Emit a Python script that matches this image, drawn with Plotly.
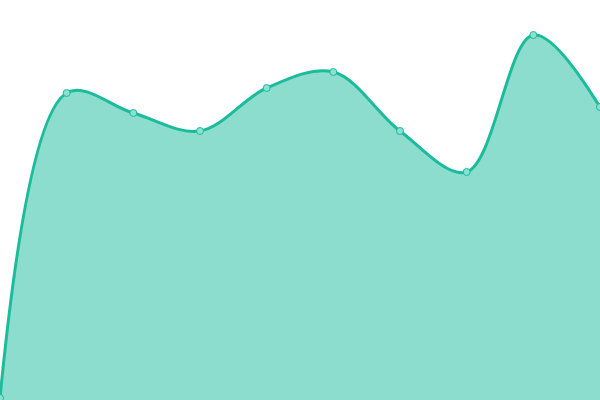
import plotly.graph_objects as go

x_vals = list(range(10))
y_vals = [2, 307, 287, 269, 312, 328, 269, 228, 365, 293]

line_color = '#1abc9c'
fill_color = 'rgba(26,188,156,0.5)'

trace = go.Scatter(x=x_vals, y=y_vals,
                   mode='lines+markers',
                   line={'color': line_color, 'width': 3, 'shape': 'spline', 'smoothing': 1},
                   marker={'size': 7, 'color': '#8ce0cf', 'line': {'color': line_color, 'width': 1}},
                   fill='tozeroy', fillcolor=fill_color,
                   cliponaxis=True, hoverinfo='skip')

layout = go.Layout(width=600, height=400,
                   margin={'l': 0, 'r': 0, 't': 0, 'b': 0},
                   paper_bgcolor='white', plot_bgcolor='white',
                   showlegend=False,
                   xaxis={'range': [0, 9], 'visible': False},
                   yaxis={'range': [0, 400], 'visible': False})

fig = go.Figure(data=[trace], layout=layout)
# the page body has a default 8px margin; drop it so the plot sits at 0,0
fig.write_html('out.html', post_script="document.body.style.margin='0';",
               config={'displayModeBar': False})
